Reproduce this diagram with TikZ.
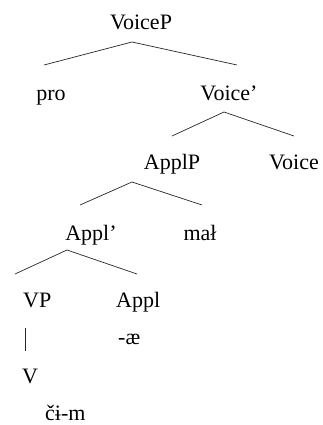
\documentclass[tikz,border=0pt]{standalone}
\usepackage{fontspec}
\setmainfont{Liberation Serif}
\begin{document}
\begin{tikzpicture}[x=1pt,y=-1pt,
  lab/.style={inner sep=0pt,anchor=base,font=\fontsize{22}{26}\selectfont},
  labw/.style={lab,anchor=base west},
  branch/.style={line width=0.7pt,draw=black!85}]
\useasboundingbox (0,0) rectangle (322,425);
% labels
\node[lab] (voiceP) at (141,30) {VoiceP};
\node[lab] (pro) at (51,100) {pro};
\node[lab] (voicebar) at (229,100) {Voice’};
\node[lab] (applP) at (172,169) {ApplP};
\node[lab] (voice) at (294,169) {Voice};
\node[lab] (applbar) at (91,240) {Appl’};
\node[lab] (mal) at (200,240) {mał};
\node[labw] (VP) at (23,307) {VP};
\node[labw] (appl) at (116,307) {Appl};
\node[labw] (ae) at (118,344) {-æ};
\node[labw] (V) at (22,383) {V};
\node[labw] (cim) at (45,420) {čɨ-m};
% branch points
\coordinate (a1) at (132,42); \coordinate (l1) at (44,65); \coordinate (r1) at (237,65);
\coordinate (a2) at (224,112); \coordinate (l2) at (172,136); \coordinate (r2) at (294,136);
\coordinate (a3) at (132,182); \coordinate (l3) at (80,205); \coordinate (r3) at (202,205);
\coordinate (a4) at (67,250); \coordinate (l4) at (15,274); \coordinate (r4) at (137,274);
\coordinate (b1) at (25,328); \coordinate (b2) at (25,351);
\draw[branch] (l1) -- (a1) -- (r1);
\draw[branch] (l2) -- (a2) -- (r2);
\draw[branch] (l3) -- (a3) -- (r3);
\draw[branch] (l4) -- (a4) -- (r4);
\draw[branch] (b1) -- (b2);
\end{tikzpicture}
\end{document}
